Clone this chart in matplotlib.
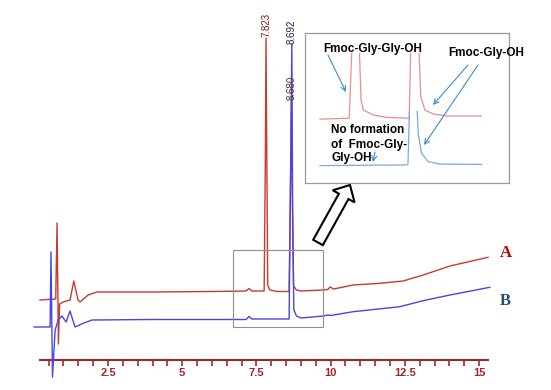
import matplotlib
matplotlib.use('Agg')
import matplotlib.pyplot as plt
import matplotlib.patches as patches
import numpy as np

# ---- data (time in min, signal in arbitrary units) ----
red_t = [0.21, 0.74, 0.785, 0.83, 0.87, 0.99, 1.22, 1.35, 1.49, 1.56, 1.83, 2.13, 4.0, 6.0,
         7.15, 7.25, 7.35, 7.76, 7.80, 7.823, 7.85, 7.88, 7.95, 8.2, 8.6, 8.64, 8.68, 8.71,
         8.75, 8.85, 9.0, 9.74, 9.9, 9.98, 10.1, 10.76, 11.66, 12.44, 13.12, 14.02, 15.3]
red_s = [60, 61, 137, 16, 56, 58, 60, 79, 60, 58, 65, 68, 68, 68.5,
         69, 71.5, 69, 69, 200, 322, 200, 75, 70, 68.5, 68.5, 160, 258, 160,
         74, 70, 69, 70, 70.5, 73, 71, 75, 76.7, 79, 85, 94, 102.7]

blue_t = [0.01, 0.45, 0.55, 0.58, 0.63, 0.72, 0.82, 0.95, 1.09, 1.22, 1.39, 1.69, 1.96, 4.0,
          7.15, 7.25, 7.35, 8.60, 8.64, 8.692, 8.72, 8.76, 8.85, 9.0, 9.75, 9.91, 10.0,
          10.76, 12.33, 13.11, 14.02, 15.36]
blue_s = [33, 33, 33, 108, -17, 30, 40, 44, 38, 49, 33, 37, 40, 40.5,
          40.5, 43.5, 41, 41, 150, 316, 150, 50, 44, 42, 44, 45, 44.5,
          48.3, 53.3, 59.3, 65, 72.7]

# enlarged view (inset)
zred_t = [7.40, 7.79, 7.83, 7.92, 7.947, 7.977, 8.111, 8.289, 8.556, 8.59, 8.612, 8.715,
          8.743, 8.80, 8.91, 9.09, 9.55]
zred_s = [67.5, 68, 115, 115, 78.7, 72.8, 69.9, 68.5, 68, 68, 115, 115,
          80.6, 72.8, 70.5, 69.3, 69.3]
zblue_t = [7.40, 8.556, 8.573, 8.61, 8.67, 8.709, 8.754, 8.843, 8.999, 9.556]
zblue_s = [40.2, 40.6, 41, 100, 100, 59, 47.4, 42.5, 41.1, 40.9]

peak_t = [7.823, 8.692, 8.680]
peak_top = [323, 316, 260]
peak_lbl = ['7.823', '8.692', '8.680']
peak_col = ['#7a1a1a', '#1c1c4c', '#6a2a14']

major_ticks = [2.5, 5, 7.5, 10, 12.5, 15]
major_lbls = ['2.5', '5', '7.5', '10', '12.5', '15']
minor_ticks = np.arange(0.5, 15.01, 0.5)

RED = '#c8392e'
BLUE = '#4646e6'
AXC = '#a3262a'
W, H = 551, 390

def fx(px): return px / W
def fy(py): return 1 - py / H
def fp(px, py): return (px / W, 1 - py / H)

fig = plt.figure(figsize=(W / 100, H / 100), dpi=100)
fig.patch.set_facecolor('white')

# ---- main chromatogram ----
ax = fig.add_axes([fx(40), fy(360), fx(488) - fx(40), fy(0) - fy(360)])
ax.set_xlim(0.21, 15.3)
ax.set_ylim(0, 360)
ax.plot(red_t, red_s, color=RED, lw=1.0, clip_on=False, zorder=3)
ax.plot(blue_t, blue_s, color=BLUE, lw=1.0, clip_on=False, zorder=4)
for t, s, l, c in zip(peak_t, peak_top, peak_lbl, peak_col):
    ax.text(t, s, l, rotation=90, ha='center', va='bottom', fontsize=7,
            color=c, family='Liberation Sans', zorder=5)
ax.add_patch(patches.Rectangle((6.71, 33), 3.03, 77, fill=False,
                               edgecolor='#909090', lw=0.8, zorder=6))

for sp in ('top', 'right', 'left'):
    ax.spines[sp].set_visible(False)
ax.spines['bottom'].set_color(AXC)
ax.spines['bottom'].set_linewidth(1.5)
ax.set_yticks([])
ax.set_xticks(major_ticks)
ax.set_xticklabels(major_lbls, fontsize=8, fontweight='bold', color=AXC,
                   family='Liberation Sans')
ax.set_xticks(minor_ticks, minor=True)
ax.tick_params(axis='x', which='both', direction='out', length=4, width=1.2,
               color=AXC, pad=2)
ax.patch.set_alpha(0)

fig.text(*fp(505.5, 253), 'A', ha='center', va='center', fontsize=12,
         fontweight='bold', color='#c00000', family='Liberation Serif')
fig.text(*fp(505.5, 301), 'B', ha='center', va='center', fontsize=12,
         fontweight='bold', color='#1f4e79', family='Liberation Serif')

# ---- hollow block arrow ----
arr = patches.FancyArrow(3.18, (H - 242.5) / 100, 0.32, 0.575, width=0.11,
                         head_width=0.25, head_length=0.13, length_includes_head=True,
                         transform=fig.dpi_scale_trans, facecolor='white',
                         edgecolor='black', lw=1.5)
fig.add_artist(arr)

# ---- inset (enlarged view) ----
ax_in = fig.add_axes([fx(305), fy(183), fx(509) - fx(305), fy(33) - fy(183)])
ax_in.set_xlim(7.2, 9.92)
ax_in.set_ylim(30, 118)
ax_in.set_xticks([]); ax_in.set_yticks([])
for sp in ax_in.spines.values():
    sp.set_color('#9a9a9a'); sp.set_linewidth(0.9)
lr, = ax_in.plot(zred_t, zred_s, color='#f08c8c', lw=0.9)
lr.set_clip_path(patches.Rectangle((7.2, 30), 3, 76, transform=ax_in.transData))
lb, = ax_in.plot(zblue_t, zblue_s, color='#7fa8d8', lw=0.9)
lb.set_clip_path(patches.Rectangle((7.2, 30), 3, 42, transform=ax_in.transData))

tkw = dict(fontsize=8.5, fontweight='bold', color='black', family='Liberation Sans',
           va='center', ha='left')
fig.text(*fp(323, 49), 'Fmoc-Gly-Gly-OH', **tkw)
fig.text(*fp(448, 53), 'Fmoc-Gly-OH', **tkw)
fig.text(*fp(331, 130), 'No formation', **tkw)
fig.text(*fp(331, 145), 'of  Fmoc-Gly-', **tkw)
fig.text(*fp(331, 158), 'Gly-OH', **tkw)

akw = dict(arrowstyle='->', color='#3a8ed0', lw=0.8, shrinkA=0, shrinkB=0,
           mutation_scale=9)
for (x0, y0), (x1, y1) in [((328, 55), (346, 92)), ((468, 65), (433, 105)),
                           ((478, 65), (424, 145)), ((375, 152), (373, 162))]:
    fig.add_artist(patches.FancyArrowPatch(fp(x0, y0), fp(x1, y1),
                                           transform=fig.transFigure, **akw))

fig.savefig('out.png', dpi=100)
